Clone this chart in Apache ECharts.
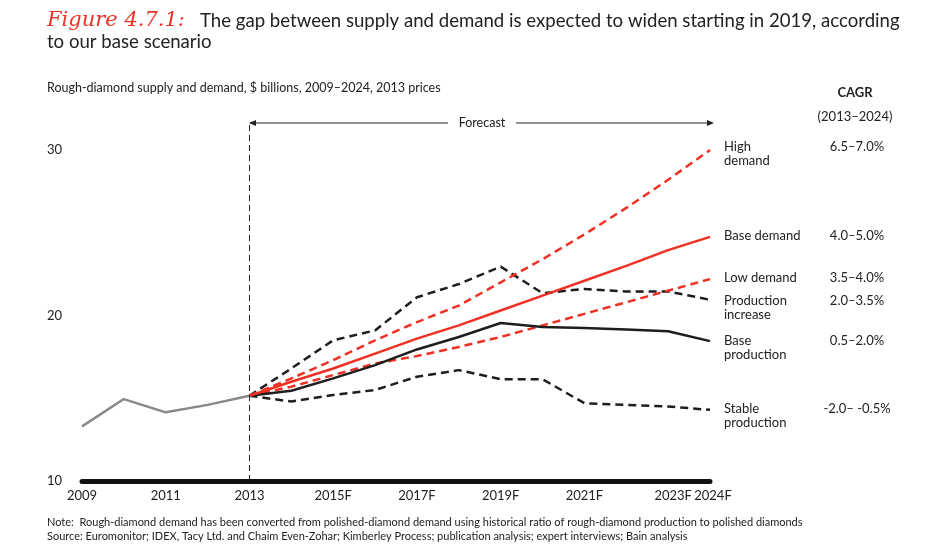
<!DOCTYPE html>
<html>
<head>
<meta charset="utf-8">
<script src="https://cdn.jsdelivr.net/npm/echarts@6/dist/echarts.min.js"></script>
<style>
  html, body { margin: 0; padding: 0; background: #fff; }
  #chart { width: 950px; height: 552px; }
</style>
</head>
<body>
<div id="chart"></div>
<script>
// 年份
const years = [2009, 2010, 2011, 2012, 2013, 2014, 2015, 2016, 2017, 2018, 2019, 2020, 2021, 2022, 2023, 2024];
const fcYears = [2013, 2014, 2015, 2016, 2017, 2018, 2019, 2020, 2021, 2022, 2023, 2024];

// 历史数据 2009-2013
const history = [13.3, 14.95, 14.15, 14.6, 15.15];

// 预测数据 2013-2024
const highDemand = [15.15, 16.2, 17.3, 18.5, 19.6, 20.6, 22.0, 23.4, 24.9, 26.5, 28.2, 30.0];
const baseDemand = [15.15, 16.0, 16.8, 17.7, 18.6, 19.4, 20.3, 21.2, 22.1, 23.0, 23.95, 24.75];
const lowDemand = [15.15, 15.7, 16.4, 17.1, 17.55, 18.1, 18.7, 19.4, 20.1, 20.8, 21.5, 22.2];
const prodIncrease = [15.15, 16.8, 18.5, 19.1, 21.1, 21.9, 22.95, 21.35, 21.6, 21.45, 21.45, 20.95];
const baseProduction = [15.15, 15.45, 16.2, 17.0, 17.95, 18.7, 19.55, 19.3, 19.25, 19.15, 19.05, 18.45];
const stableProduction = [15.15, 14.8, 15.2, 15.5, 16.3, 16.7, 16.15, 16.15, 14.7, 14.6, 14.5, 14.3];

// 右侧标签与 CAGR
const endLabels = ['High\ndemand', 'Base demand', 'Low demand', 'Production\nincrease', 'Base\nproduction', 'Stable\nproduction'];
const cagrs = ['6.5–7.0%', '4.0–5.0%', '3.5–4.0%', '2.0–3.5%', '0.5–2.0%', '-2.0– -0.5%'];
const labelTops = [140, 229, 271, 294, 334, 402];

// x 轴刻度标签
const tickLabels = { 2009: '2009', 2011: '2011', 2013: '2013', 2015: '2015F', 2017: '2017F', 2019: '2019F', 2021: '2021F', 2023: '2023F', 2024: '2024F' };

const RED = '#ee3124';
const BLACK = '#1e1e1e';
const FONT = 'Lato, "Noto Sans", sans-serif';

const myChart = echarts.init(document.getElementById('chart'));

function pairs(xs, ys) {
  return ys.map((v, i) => [xs[i], v]);
}

function lineSeries(name, data, color, dashed) {
  return {
    name: name,
    type: 'line',
    data: pairs(fcYears, data),
    symbol: 'none',
    clip: false,
    z: dashed ? 3 : 4,
    lineStyle: {
      color: color,
      width: 2.5,
      type: dashed ? [8, 5] : 'solid'
    }
  };
}

// 文字元素（x/y 定位，便于居中）
function txt(x, y, text, font, align) {
  return {
    type: 'text', x: x, y: y,
    style: { text: text, font: font, fill: '#222', textAlign: align || 'left', textVerticalAlign: 'top', lineHeight: 14 }
  };
}

const graphics = [];
endLabels.forEach((t, i) => {
  graphics.push(txt(724, labelTops[i], t, '13px ' + FONT));
  graphics.push(txt(857, labelTops[i], cagrs[i], '13px ' + FONT, 'center'));
});

const option = {
  animation: false,
  textStyle: { fontFamily: FONT },
  grid: { left: 82, right: 240, top: 150, bottom: 71 },
  xAxis: {
    type: 'value',
    min: 2009,
    max: 2024,
    interval: 1,
    splitLine: { show: false },
    axisTick: { show: false },
    axisLine: { show: true, lineStyle: { color: '#111', width: 5 } },
    axisLabel: {
      color: '#222',
      fontSize: 13,
      margin: 8,
      showMaxLabel: true,
      showMinLabel: true,
      hideOverlap: false,
      formatter: function (v) {
        if (v === 2023) return '{a|2023F}';
        if (v === 2024) return '{b|2024F}';
        return tickLabels[v] || '';
      },
      rich: {
        a: { fontSize: 13, color: '#222', padding: [0, 0, 0, 10] },
        b: { fontSize: 13, color: '#222', padding: [0, 0, 0, 6] }
      }
    }
  },
  yAxis: {
    type: 'value',
    min: 10,
    max: 30,
    interval: 10,
    splitLine: { show: false },
    axisTick: { show: false },
    axisLine: { show: false },
    axisLabel: { color: '#222', fontSize: 13, margin: 35, align: 'left' }
  },
  series: [
    {
      name: 'History',
      type: 'line',
      data: pairs(years, history),
      symbol: 'none',
      lineStyle: { color: '#888', width: 2.5 },
      z: 2,
      markLine: {
        silent: true,
        symbol: 'none',
        label: { show: false },
        lineStyle: { color: '#222', width: 1, type: [6, 4] },
        data: [[{ coord: [2013, 10] }, { coord: [2013, 30], y: 123 }]]
      }
    },
    lineSeries('Stable production', stableProduction, BLACK, true),
    lineSeries('Production increase', prodIncrease, BLACK, true),
    lineSeries('Base production', baseProduction, BLACK, false),
    lineSeries('Low demand', lowDemand, RED, true),
    lineSeries('High demand', highDemand, RED, true),
    lineSeries('Base demand', baseDemand, RED, false)
  ],
  graphic: [
    {
      type: 'text', x: 47, y: 10,
      style: { text: 'Figure 4.7.1:', font: 'italic 21px "DejaVu Serif", serif', fill: RED, textVerticalAlign: 'top' }
    },
    {
      type: 'text', x: 200, y: 11,
      style: { text: 'The gap between supply and demand is expected to widen starting in 2019, according', font: '18.6px ' + FONT, fill: '#222', textVerticalAlign: 'top' }
    },
    txt(47, 35, 'to our base scenario', '18.6px ' + FONT),
    txt(47, 81, 'Rough-diamond supply and demand, $ billions, 2009–2024, 2013 prices', '12.5px ' + FONT),
    txt(855, 86, 'CAGR', 'bold 13px ' + FONT, 'center'),
    txt(855, 110, '(2013–2024)', '13px ' + FONT, 'center'),
    // Forecast 箭头
    {
      type: 'line', shape: { x1: 250, y1: 123, x2: 448, y2: 123 },
      style: { stroke: '#222', lineWidth: 1 }
    },
    {
      type: 'line', shape: { x1: 516, y1: 123, x2: 711, y2: 123 },
      style: { stroke: '#222', lineWidth: 1 }
    },
    {
      type: 'polygon', shape: { points: [[249, 123], [256, 120], [256, 126]] },
      style: { fill: '#222' }
    },
    {
      type: 'polygon', shape: { points: [[714, 123], [707, 120], [707, 126]] },
      style: { fill: '#222' }
    },
    txt(482, 116, 'Forecast', '12.5px ' + FONT, 'center'),
    txt(47, 515, 'Note:  Rough-diamond demand has been converted from polished-diamond demand using historical ratio of rough-diamond production to polished diamonds', '11px ' + FONT),
    txt(47, 529, 'Source: Euromonitor; IDEX, Tacy Ltd. and Chaim Even-Zohar; Kimberley Process; publication analysis; expert interviews; Bain analysis', '11px ' + FONT)
  ].concat(graphics)
};

myChart.setOption(option);
</script>
</body>
</html>
